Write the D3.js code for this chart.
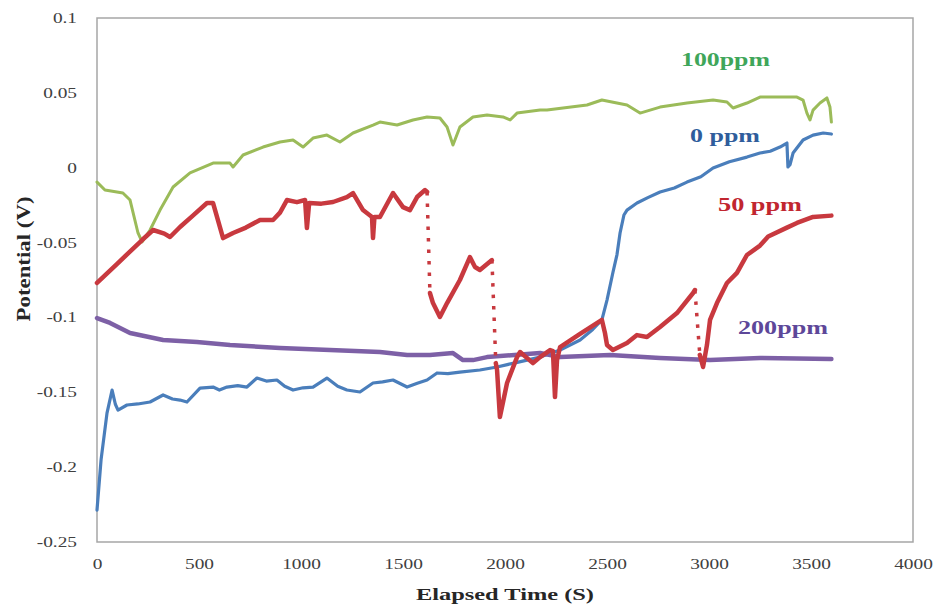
<!DOCTYPE html>
<html>
<head>
<meta charset="utf-8">
<script src="https://cdn.jsdelivr.net/npm/d3@7"></script>
<style>
  html, body { margin: 0; padding: 0; background: #ffffff; }
  svg { display: block; }
</style>
</head>
<body>
<svg id="chart" width="937" height="606"></svg>
<script>
// ---------------- data ----------------
const timeTicks = [0, 500, 1000, 1500, 2000, 2500, 3000, 3500, 4000];
const timeTickLabels = ["0", "500", "1000", "1500", "2000", "2500", "3000", "3500", "4000"];
const potentialTicks = [0.1, 0.05, 0, -0.05, -0.1, -0.15, -0.2, -0.25];
const potentialTickLabels = ["0.1", "0.05", "0", "-0.05", "-0.1", "-0.15", "-0.2", "-0.25"];

const seriesNames = ["0 ppm", "50 ppm", "100ppm", "200ppm"];

// [time (s), potential (V)]
const ppm0 = [
  [0, -0.2287], [20, -0.195], [49, -0.1639], [74, -0.1485], [90, -0.158], [103, -0.1619],
  [147, -0.1585], [200, -0.1578], [260, -0.1565], [324, -0.1518], [370, -0.1545], [407, -0.1552], [441, -0.1565],
  [505, -0.1472], [569, -0.1465], [600, -0.1485], [637, -0.1465], [690, -0.1455], [735, -0.1465], [784, -0.1405],
  [830, -0.1425], [882, -0.1418], [920, -0.1460], [961, -0.1485], [1010, -0.1470], [1059, -0.1465], [1127, -0.1405],
  [1180, -0.1460], [1225, -0.1485], [1289, -0.1498], [1353, -0.1438], [1400, -0.1430], [1451, -0.1418],
  [1520, -0.1465], [1570, -0.1440], [1618, -0.1418],
  [1667, -0.1371], [1720, -0.1375], [1779, -0.1365], [1877, -0.1351], [1961, -0.1331], [2060, -0.1300],
  [2172, -0.1265], [2270, -0.1218], [2368, -0.1151], [2430, -0.1080], [2475, -0.1017],
  [2500, -0.0884], [2529, -0.0700], [2549, -0.0580], [2564, -0.0436], [2583, -0.0316],
  [2598, -0.0283], [2647, -0.0236], [2700, -0.0200], [2760, -0.0162], [2830, -0.0135], [2892, -0.0096],
  [2960, -0.0060], [3020, -0.0002], [3100, 0.0040], [3186, 0.0071], [3250, 0.0098], [3300, 0.0110], [3348, 0.0138],
  [3382, 0.0165], [3387, 0.0005], [3397, 0.0020], [3412, 0.0098], [3461, 0.0185],
  [3510, 0.0218], [3560, 0.0232], [3600, 0.0225]
];

const ppm50 = [
  [0, -0.0770], [100, -0.0640], [221, -0.0483], [275, -0.0416], [330, -0.0440], [358, -0.0463],
  [407, -0.0396], [470, -0.0320], [539, -0.0236], [569, -0.0236], [618, -0.0470], [667, -0.0436],
  [730, -0.0400], [799, -0.0349], [863, -0.0349], [897, -0.0300], [931, -0.0216], [980, -0.0230], [1020, -0.0216], [1029, -0.0403],
  [1040, -0.0236], [1100, -0.0240], [1157, -0.0229], [1225, -0.0196], [1255, -0.0169], [1304, -0.0283],
  [1348, -0.0329], [1353, -0.0470], [1360, -0.0329], [1387, -0.0329], [1451, -0.0169],
  [1500, -0.0263], [1534, -0.0283], [1569, -0.0196], [1608, -0.0149], [1618, -0.0162],
  [1632, -0.0837], [1647, -0.0904], [1681, -0.0997], [1716, -0.0904], [1779, -0.0750],
  [1828, -0.0597], [1853, -0.0663], [1877, -0.0683], [1936, -0.0617],
  [1955, -0.1305], [1961, -0.1351], [1975, -0.1665], [2010, -0.1438], [2059, -0.1265],
  [2074, -0.1231], [2137, -0.1305], [2172, -0.1265], [2221, -0.1218], [2235, -0.1225],
  [2245, -0.1532], [2255, -0.1285], [2270, -0.1198], [2368, -0.1110], [2475, -0.1017],
  [2490, -0.1104], [2500, -0.1184], [2529, -0.1218], [2598, -0.1171], [2647, -0.1118],
  [2696, -0.1131], [2760, -0.1064], [2843, -0.0971], [2922, -0.0837], [2931, -0.0817],
  [2955, -0.1250], [2971, -0.1331], [2990, -0.1184], [3005, -0.1017], [3039, -0.0904],
  [3088, -0.0770], [3137, -0.0703], [3186, -0.0583], [3250, -0.0520], [3290, -0.0460],
  [3382, -0.0400], [3431, -0.0369], [3510, -0.0329], [3600, -0.0320]
];
// times after which 50 ppm drops sharply (drawn as sparse dots)
const ppm50DropStarts = [1618, 1936, 2931];

const ppm100 = [
  [0, -0.0096], [39, -0.0149], [127, -0.0169], [162, -0.0216], [201, -0.0436],
  [221, -0.0496], [260, -0.0416], [309, -0.0283], [373, -0.0129], [456, -0.0035],
  [569, 0.0031], [652, 0.0031], [667, 0.0005], [716, 0.0085], [814, 0.0138],
  [897, 0.0172], [961, 0.0185], [1010, 0.0138], [1059, 0.0198], [1127, 0.0218],
  [1191, 0.0172], [1255, 0.0232], [1353, 0.0285], [1387, 0.0305], [1471, 0.0285],
  [1549, 0.0319], [1618, 0.0339], [1681, 0.0332], [1716, 0.0272], [1745, 0.0152],
  [1779, 0.0272], [1843, 0.0339], [1912, 0.0352], [1990, 0.0339], [2025, 0.0319],
  [2059, 0.0365], [2172, 0.0385], [2206, 0.0385], [2402, 0.0419], [2475, 0.0452],
  [2598, 0.0419], [2662, 0.0365], [2760, 0.0405], [2892, 0.0432], [3020, 0.0452],
  [3088, 0.0439], [3118, 0.0399], [3186, 0.0432], [3250, 0.0472], [3431, 0.0472],
  [3461, 0.0452], [3480, 0.0365], [3495, 0.0319], [3510, 0.0385], [3544, 0.0432],
  [3578, 0.0466], [3593, 0.0405], [3600, 0.0305]
];

const ppm200 = [
  [0, -0.1004], [64, -0.1037], [162, -0.1104], [324, -0.1151], [490, -0.1164],
  [652, -0.1184], [897, -0.1204], [1142, -0.1218], [1387, -0.1231], [1520, -0.1251],
  [1632, -0.1251], [1745, -0.1238], [1794, -0.1285], [1843, -0.1285], [1912, -0.1265],
  [2172, -0.1238], [2270, -0.1265], [2515, -0.1251], [2760, -0.1271], [3005, -0.1285],
  [3250, -0.1271], [3600, -0.1278]
];

// ---------------- layout ----------------
const W = 937, H = 606;
const margin = { left: 97, top: 18, right: 24, bottom: 64 };
const SX = 1.38; // horizontal stretch of the reference's text

const svg = d3.select("#chart");
const x = d3.scaleLinear().domain([0, 4000]).range([margin.left, W - margin.right]);
const y = d3.scaleLinear().domain([-0.25, 0.1]).range([H - margin.bottom, margin.top]);

// plot-area border
svg.append("rect")
  .attr("x", x(0)).attr("y", y(0.1))
  .attr("width", x(4000) - x(0)).attr("height", y(-0.25) - y(0.1))
  .attr("fill", "none").attr("stroke", "#a6a6a6").attr("stroke-width", 1.5);

// axes
const yAxis = d3.axisLeft(y).tickValues(potentialTicks).tickSize(0)
  .tickFormat((d, i) => potentialTickLabels[i]);
const gy = svg.append("g").attr("transform", `translate(${x(0)},0)`).call(yAxis);
gy.select(".domain").remove();
gy.selectAll("text")
  .attr("x", -20 / SX)
  .attr("transform", `scale(${SX},1)`)
  .style("font-family", "'Liberation Serif', 'Times New Roman', serif")
  .style("font-size", "14px").attr("fill", "#404040");

const xAxis = d3.axisBottom(x).tickValues(timeTicks).tickSize(0)
  .tickFormat((d, i) => timeTickLabels[i]);
const gx = svg.append("g").attr("transform", `translate(0,${y(-0.25)})`).call(xAxis);
gx.select(".domain").remove();
gx.selectAll("text")
  .attr("y", 17)
  .attr("transform", `scale(${SX},1)`)
  .style("font-family", "'Liberation Serif', 'Times New Roman', serif")
  .style("font-size", "14px").attr("fill", "#404040");

// axis titles
svg.append("text")
  .attr("x", 505).attr("y", 600)
  .attr("text-anchor", "middle")
  .attr("textLength", 178).attr("lengthAdjust", "spacingAndGlyphs")
  .style("font-family", "'Liberation Serif', 'Times New Roman', serif")
  .style("font-size", "17px").style("font-weight", "bold").attr("fill", "#262626")
  .text("Elapsed Time (S)");

svg.append("text")
  .attr("transform", `translate(30,259) rotate(-90)`)
  .attr("text-anchor", "middle")
  .attr("textLength", 125).attr("lengthAdjust", "spacingAndGlyphs")
  .style("font-family", "'Liberation Serif', 'Times New Roman', serif")
  .style("font-size", "18px").style("font-weight", "bold").attr("fill", "#262626")
  .text("Potential (V)");

// ---------------- series ----------------
const line = d3.line().x(d => x(d[0])).y(d => y(d[1]));

function drawSolid(data, color, width) {
  svg.append("path").datum(data)
    .attr("d", line)
    .attr("fill", "none").attr("stroke", color)
    .attr("stroke-width", width)
    .attr("stroke-linejoin", "round").attr("stroke-linecap", "round");
}

drawSolid(ppm0, "#4a7ebb", 3.2);
drawSolid(ppm200, "#7d60a6", 4.5);
drawSolid(ppm100, "#9bbb59", 3);

// 50 ppm: solid runs, with sparse dotted drops
const red = "#c8393f";
let run = [ppm50[0]];
const dropSegs = [];
for (let i = 1; i < ppm50.length; i++) {
  const prev = ppm50[i - 1];
  if (ppm50DropStarts.includes(prev[0])) {
    drawSolid(run, red, 4.5);
    dropSegs.push([prev, ppm50[i]]);
    run = [ppm50[i]];
  } else {
    run.push(ppm50[i]);
  }
}
drawSolid(run, red, 4.5);
dropSegs.forEach(seg => {
  svg.append("path").datum(seg)
    .attr("d", line)
    .attr("fill", "none").attr("stroke", red)
    .attr("stroke-width", 3.5)
    .attr("stroke-dasharray", "3.5,8");
});

// ---------------- series labels ----------------
const labels = [
  { text: seriesNames[2], x: 681, y: 66, len: 89, color: "#3fa65a" },
  { text: seriesNames[0], x: 690, y: 142, len: 70, color: "#2f5d9c" },
  { text: seriesNames[1], x: 718, y: 211, len: 84, color: "#c1262f" },
  { text: seriesNames[3], x: 738, y: 334, len: 90, color: "#5d4799" }
];
labels.forEach(l => {
  svg.append("text")
    .attr("x", l.x).attr("y", l.y)
    .attr("textLength", l.len).attr("lengthAdjust", "spacingAndGlyphs")
    .style("font-family", "'Liberation Serif', 'Times New Roman', serif")
    .style("font-size", "18px").style("font-weight", "bold")
    .attr("fill", l.color)
    .text(l.text);
});
</script>
</body>
</html>
